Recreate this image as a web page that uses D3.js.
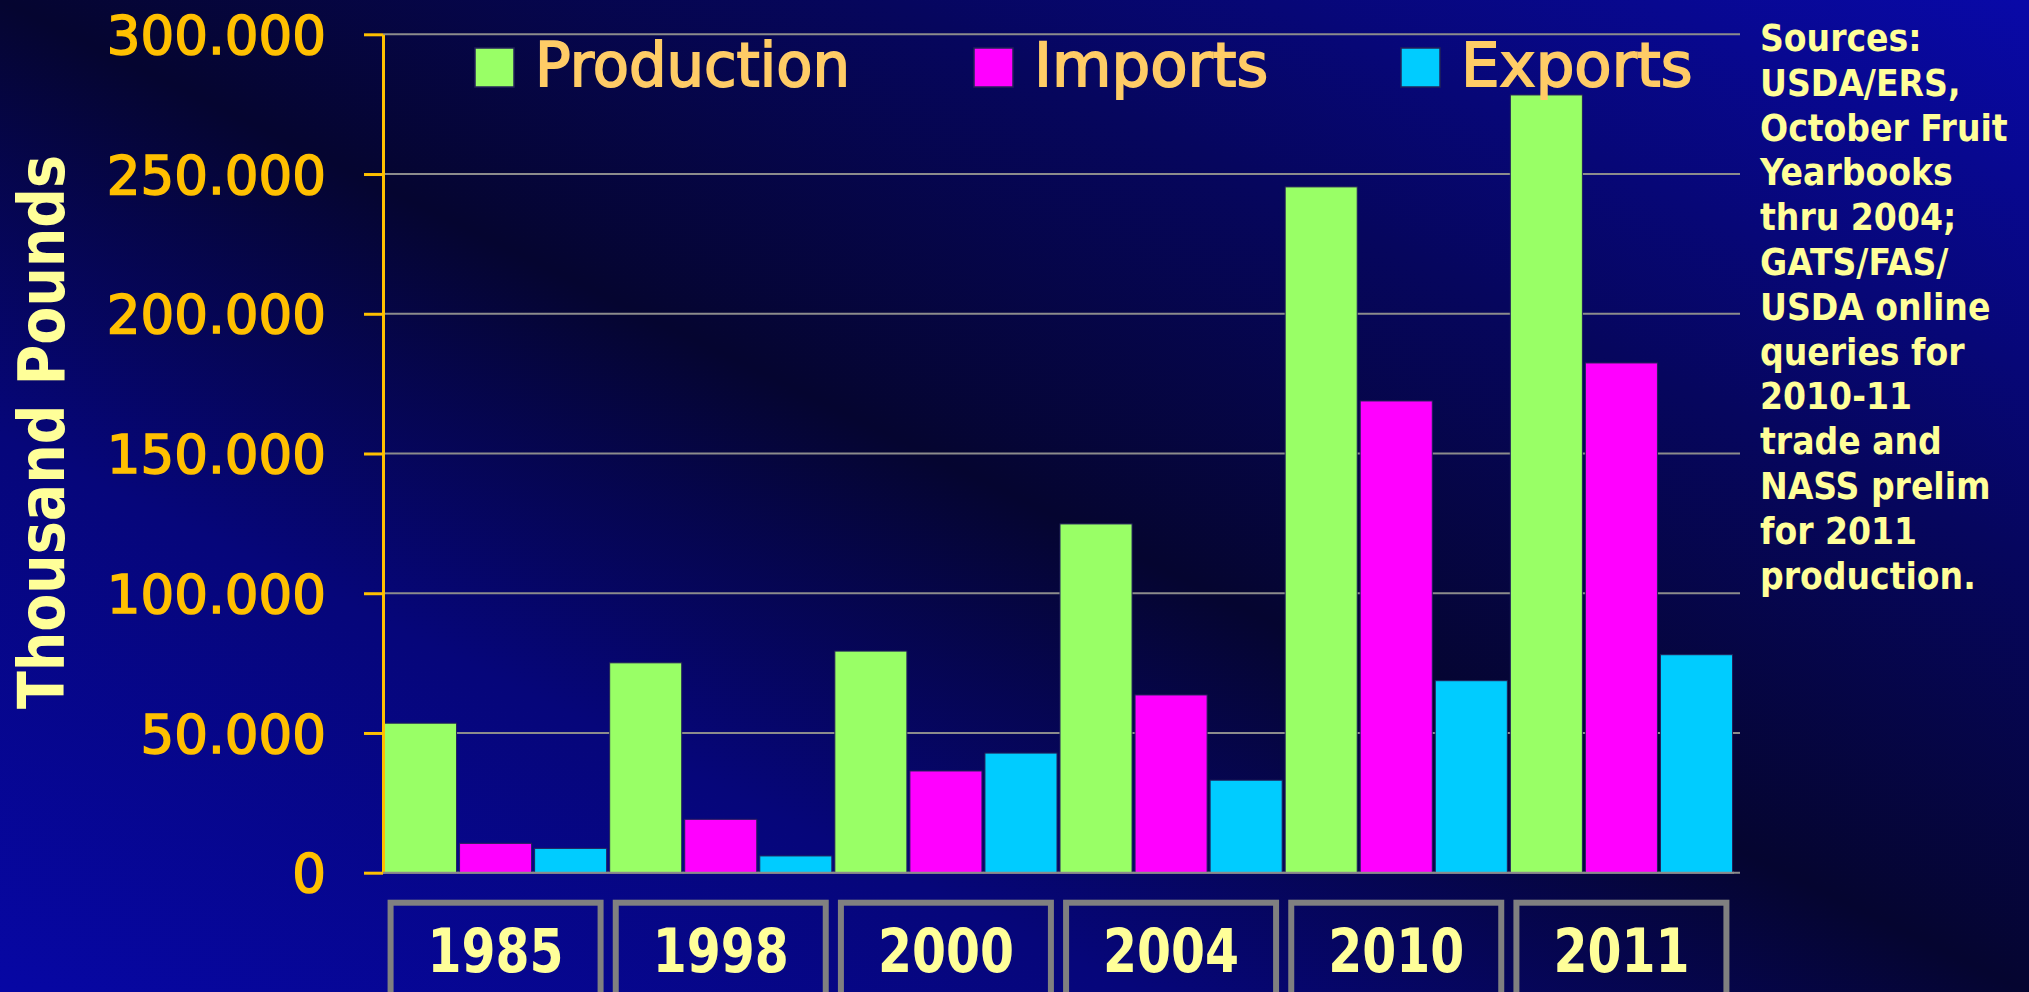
<!DOCTYPE html>
<html>
<head>
<meta charset="utf-8">
<script src="https://cdn.jsdelivr.net/npm/d3@7"></script>
<style>
  body { margin: 0; background: #05052a; }
  svg { display: block; }
</style>
</head>
<body>
<div id="chart"></div>
<script>
// data (thousand pounds)
const years = ["1985", "1998", "2000", "2004", "2010", "2011"];
const production = [53500, 75100, 79300, 124800, 245400, 278300];
const imports = [10500, 19100, 36400, 63600, 168800, 182400];
const exports = [8700, 6000, 42800, 33100, 68700, 78000];
const seriesNames = ["Production", "Imports", "Exports"];
const yTicks = [0, 50000, 100000, 150000, 200000, 250000, 300000];
const sourceLines = [
  "Sources:", "USDA/ERS,", "October Fruit", "Yearbooks", "thru 2004;",
  "GATS/FAS/", "USDA online", "queries for", "2010-11", "trade and",
  "NASS prelim", "for 2011", "production."
];

const colors = ["#99ff66", "#ff00ff", "#00ccff"];
const series = [production, imports, exports];

const W = 2029, H = 992;
const margin = { left: 383, top: 34.3 };
const width = 1351, height = 838.4;

const svg = d3.select("#chart").append("svg")
  .attr("width", W).attr("height", H);

// background
const defs = svg.append("defs");
const grad = defs.append("linearGradient")
  .attr("id", "bg").attr("x1", 0).attr("y1", 1).attr("x2", 1).attr("y2", 0);
grad.append("stop").attr("offset", 0).attr("stop-color", "#0707a4");
grad.append("stop").attr("offset", 0.28).attr("stop-color", "#06067a");
grad.append("stop").attr("offset", 0.5).attr("stop-color", "#050530");
grad.append("stop").attr("offset", 0.72).attr("stop-color", "#06065e");
grad.append("stop").attr("offset", 1).attr("stop-color", "#0909a8");
svg.append("rect").attr("width", W).attr("height", H).attr("fill", "url(#bg)");

const g = svg.append("g")
  .attr("transform", "translate(" + margin.left + "," + margin.top + ")");

const x0 = d3.scaleBand().domain(years).range([0, width]).padding(0);
const x1 = d3.scaleBand().domain(seriesNames).range([0, x0.bandwidth()]).padding(0);
const y = d3.scaleLinear().domain([0, 300000]).range([height, 0]);

const fmt = d3.formatLocale({ decimal: ",", thousands: ".", grouping: [3], currency: ["", ""] }).format(",");

// gridlines
g.append("g").selectAll("line")
  .data(yTicks)
  .enter()
  .append("line")
  .attr("x1", 0)
  .attr("x2", width + 6)
  .attr("y1", d => y(d))
  .attr("y2", d => y(d))
  .attr("stroke", "#8c8c8c")
  .attr("stroke-width", 2);

// bars
const rows = years.map((yr, i) => ({ year: yr, vals: series.map((s, k) => ({ name: seriesNames[k], value: s[i], color: colors[k] })) }));

g.selectAll(".grp")
  .data(rows)
  .enter()
  .append("g")
  .attr("class", "grp")
  .attr("transform", d => "translate(" + x0(d.year) + ",0)")
  .selectAll("rect")
  .data(d => d.vals)
  .enter()
  .append("rect")
  .attr("x", d => x1(d.name) + 1.5)
  .attr("width", x1.bandwidth() - 3)
  .attr("y", d => y(d.value))
  .attr("height", d => height - y(d.value))
  .attr("fill", d => d.color)
  .attr("stroke", "#22225a")
  .attr("stroke-width", 1);

// y axis
const yAxis = d3.axisLeft(y)
  .tickValues(yTicks)
  .tickFormat(d => fmt(d))
  .tickSize(19)
  .tickSizeOuter(0)
  .tickPadding(38);

const ya = g.append("g").call(yAxis);
ya.select(".domain").attr("stroke", "#ffc000").attr("stroke-width", 3);
ya.selectAll(".tick line").attr("stroke", "#ffc000").attr("stroke-width", 3);
ya.selectAll(".tick text")
  .attr("fill", "#ffc000")
  .attr("stroke", "#ffc000")
  .attr("stroke-width", 1.6)
  .style("font-family", "'DejaVu Sans', sans-serif")
  .style("font-size", "53px")
  .attr("dy", "0.36em");

// x baseline
g.append("line")
  .attr("x1", 0).attr("x2", width)
  .attr("y1", height).attr("y2", height)
  .attr("stroke", "#8c8c8c").attr("stroke-width", 2);

// year label boxes
const yearG = g.selectAll(".yr")
  .data(years)
  .enter()
  .append("g")
  .attr("class", "yr")
  .attr("transform", d => "translate(" + (x0(d) + x0.bandwidth() / 2) + "," + (height + 30) + ")");

yearG.append("rect")
  .attr("x", -105)
  .attr("y", 0)
  .attr("width", 210)
  .attr("height", 120)
  .attr("fill", "none")
  .attr("stroke", "#808080")
  .attr("stroke-width", 6);

yearG.append("text")
  .attr("text-anchor", "middle")
  .attr("y", 69)
  .attr("fill", "#ffff99")
  .style("font-family", "'DejaVu Sans Condensed', 'DejaVu Sans', sans-serif")
  .style("font-stretch", "condensed")
  .style("font-weight", "bold")
  .style("font-size", "60px")
  .text(d => d);

// fit helper: squeeze a text to a target width when the font runs wider
function fit(sel, w) {
  sel.each(function () {
    const len = this.getComputedTextLength();
    if (Math.abs(len - w) / w > 0.03) {
      d3.select(this).attr("textLength", w).attr("lengthAdjust", "spacingAndGlyphs");
    }
  });
}
yearG.selectAll("text").each(function () { fit(d3.select(this), 136); });

// y title
const title = svg.append("text")
  .attr("transform", "translate(64,432) rotate(-90)")
  .attr("text-anchor", "middle")
  .attr("fill", "#ffff99")
  .style("font-family", "'DejaVu Sans Condensed', 'DejaVu Sans', sans-serif")
  .style("font-stretch", "condensed")
  .style("font-weight", "bold")
  .style("font-size", "64px")
  .text("Thousand Pounds");
fit(title, 554);

// legend
const legendX = [475, 974, 1401];
const legendW = [315, 240, 233];
const lg = svg.selectAll(".lg")
  .data(seriesNames)
  .enter()
  .append("g")
  .attr("class", "lg")
  .attr("transform", (d, i) => "translate(" + legendX[i] + ",48)");

lg.append("rect")
  .attr("width", 39).attr("height", 39)
  .attr("fill", (d, i) => colors[i])
  .attr("stroke", "#22225a").attr("stroke-width", 1.5);

lg.append("text")
  .attr("x", 60)
  .attr("y", 38)
  .attr("fill", "#ffcc66")
  .attr("stroke", "#ffcc66")
  .attr("stroke-width", 1.8)
  .style("font-family", "'DejaVu Sans', sans-serif")
  .style("font-size", "61px")
  .text(d => d)
  .each(function (d, i) { fit(d3.select(this), legendW[i]); });

// sources note
const src = svg.append("text")
  .attr("fill", "#ffff99")
  .style("font-family", "'DejaVu Sans Condensed', 'DejaVu Sans', sans-serif")
  .style("font-stretch", "condensed")
  .style("font-weight", "bold")
  .style("font-size", "32px");

src.selectAll("tspan")
  .data(sourceLines)
  .enter()
  .append("tspan")
  .attr("x", 1760)
  .attr("y", (d, i) => 51 + i * 44.8)
  .text(d => d);

// scale the note so "October Fruit" runs about 248px wide
const probe = src.selectAll("tspan").filter(d => d === "October Fruit").node();
const pw = probe.getComputedTextLength();
if (pw > 0) src.style("font-size", (32 * 248 / pw).toFixed(1) + "px");
</script>
</body>
</html>
